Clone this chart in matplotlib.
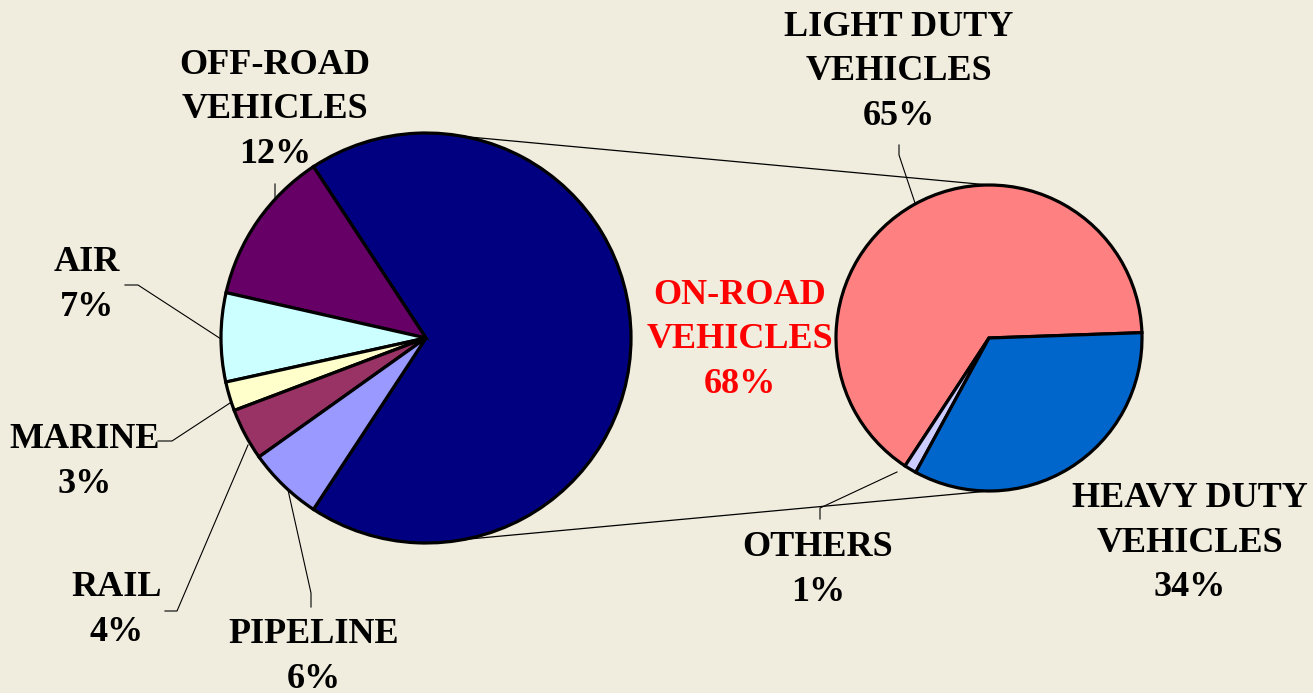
import matplotlib.pyplot as plt

# main pie: share of transport emissions by mode
main_labels = ['ON-ROAD\nVEHICLES\n68%', 'OFF-ROAD\nVEHICLES\n12%', 'AIR\n7%',
               'MARINE\n3%', 'RAIL\n4%', 'PIPELINE\n6%']
main_values = [68.5, 12.2, 7.0, 2.3, 4.1, 5.9]
main_colors = ['#000080', '#660066', '#CCFFFF', '#FFFFCC', '#993366', '#9999FF']

# breakdown of on-road vehicles
sub_labels = ['LIGHT DUTY\nVEHICLES\n65%', 'OTHERS\n1%', 'HEAVY DUTY\nVEHICLES\n34%']
sub_values = [65.2, 1.3, 33.5]
sub_colors = ['#FF8080', '#CCCCFF', '#0066CC']

W, H = 1313, 693
bg = '#F0EDDE'

fig = plt.figure(figsize=(W / 100, H / 100), dpi=100, facecolor=bg)
ax = fig.add_axes([0, 0, 1, 1])
ax.set_facecolor(bg)


def py(y):
    # image pixel row -> data y
    return H - y


c1, r1 = (426, py(338)), 205
c2, r2 = (989, py(338)), 153

wedge = dict(edgecolor='black', linewidth=2.3)
ax.pie(main_values, colors=main_colors, startangle=-123.3, center=c1, radius=r1,
       wedgeprops=wedge, frame=True)
ax.pie(sub_values, colors=sub_colors, startangle=2, center=c2, radius=r2,
       wedgeprops=wedge, frame=True)
ax.set_xlim(0, W)
ax.set_ylim(0, H)
ax.set_aspect('equal')
ax.axis('off')

# connector lines between the two pies
ax.plot([c1[0], c2[0]], [c1[1] + r1, c2[1] + r2], color='black', lw=0.9, zorder=0)
ax.plot([c1[0], c2[0]], [c1[1] - r1, c2[1] - r2], color='black', lw=0.9, zorder=0)

font = dict(family='Liberation Serif', fontweight='bold', fontsize=26,
            ha='center', va='center', linespacing=1.47)

# label centres (pixels)
main_pos = [(740, 340), (275, 110), (87, 285), (85, 462), (117, 610), (314, 657)]
sub_pos = [(899, 72), (818, 570), (1190, 543)]

for txt, (x, y) in zip(main_labels, main_pos):
    ax.text(x, py(y), txt, color='red' if txt.startswith('ON') else 'black', **font)
for txt, (x, y) in zip(sub_labels, sub_pos):
    ax.text(x, py(y), txt, **font)

# leader lines
leaders = [
    [(275, 184), (275, 199), (269, 208)],
    [(125, 285), (138, 285), (221, 339)],
    [(158, 441), (172, 441), (230, 403)],
    [(165, 611), (177, 611), (248, 445)],
    [(311, 607), (311, 593), (288, 490)],
    [(899, 145), (899, 155), (915, 203)],
    [(820, 519), (820, 508), (897, 472)],
]
for pts in leaders:
    xs = [p[0] for p in pts]
    ys = [py(p[1]) for p in pts]
    ax.plot(xs, ys, color='black', lw=0.8)

fig.savefig('out.png', dpi=100, facecolor=bg)
